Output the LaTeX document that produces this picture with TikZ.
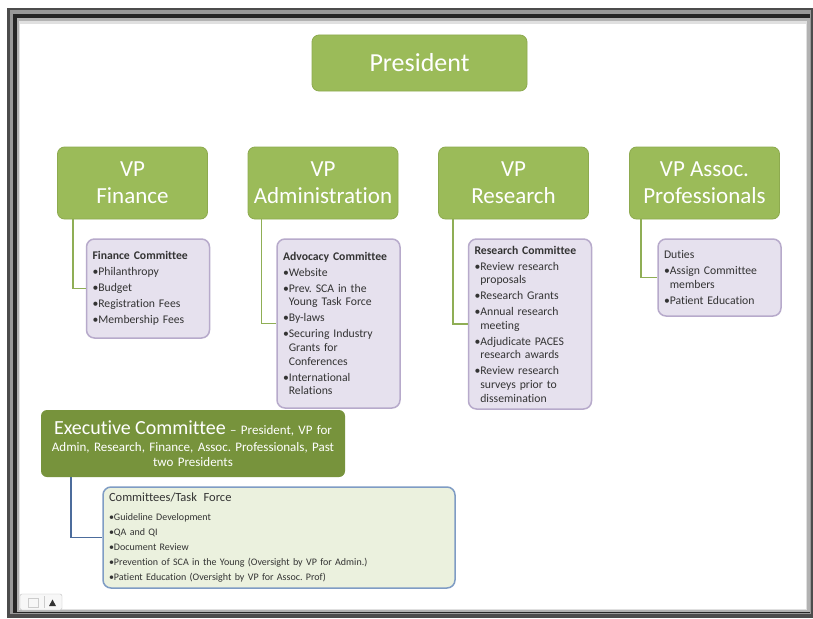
\documentclass[tikz,border=0pt]{standalone}
\usepackage{fontspec}
\setmainfont{Carlito}[Ligatures=NoCommon]
\frenchspacing
\definecolor{vpgreen}{HTML}{9BBB59}
\definecolor{vpedge}{HTML}{8DAA4F}
\definecolor{execgreen}{HTML}{77933C}
\definecolor{lavfill}{HTML}{E6E1EE}
\definecolor{lavedge}{HTML}{B7AACB}
\definecolor{taskfill}{HTML}{EBF1DE}
\definecolor{taskedge}{HTML}{7F9CC4}
\definecolor{taskline}{HTML}{4C6C9C}
\definecolor{greenline}{HTML}{8FAE55}
\newcommand{\itm}{\\[2.4pt]\textbullet}
\newcommand{\wrp}{\\\hphantom{\textbullet}}
\begin{document}
\begin{tikzpicture}[x=1pt,y=-1pt,
	vpbox/.style={rectangle, rounded corners=7pt, draw=vpedge, line width=0.8pt, fill=vpgreen, text=white, align=center, minimum width=150pt, minimum height=72pt, font=\fontsize{23}{27}\selectfont},
	combox/.style={rectangle, rounded corners=8pt, draw=lavedge, line width=1.5pt, fill=lavfill, text=black!80, align=left, inner xsep=6pt, text width=111pt, font=\fontsize{11.7}{13.6}\selectfont},
	greenlink/.style={draw=greenline, line width=1.6pt},
	bluelink/.style={draw=taskline, line width=1.6pt}]
		\useasboundingbox (0,0) rectangle (813,618);
		%window frame
		\fill[white] (0,0) rectangle (813,618);
		\fill[black!70] (7,8) rectangle (813,618);
		\fill[black!40] (10,10) rectangle (811,614);
		\fill[black!85] (13,14) rectangle (810,613);
		\fill[black!30] (17,18) rectangle (810,612);
		\fill[black!12] (19,21) rectangle (807,610);
		\fill[white] (20,24) rectangle (806,609);
		%slide widget
		\draw[black!25, fill=black!3, rounded corners=2pt] (20,594) rectangle (62,610);
		\draw[black!20] (28,598) rectangle (38,607);
		\draw[black!20] (44,596) -- (44,608);
		\fill[black!80] (49,606) -- (56,606) -- (52.5,599.5) -- cycle;
		
		%President's node
		\node (President) at (419.5,63) [vpbox, minimum width=215pt, minimum height=56pt, font=\fontsize{26}{30}\selectfont]{President};
		
		%VP's nodes
		\node (VP Finance) at (132.5,183) [vpbox]{VP\\Finance};
		\node (VP Administration) at (323,183) [vpbox]{VP\\Administration};
		\node (VP Research) at (513.5,183) [vpbox]{VP\\Research};
		\node (VP Assoc Professionals) at (704.5,183) [vpbox]{VP Assoc.\\Professionals};
		
		%committee nodes
		\node (Finance Committee) at (148,288.5) [combox, minimum height=99pt]{\textbf{Finance Committee}\itm Philanthropy\itm Budget\itm Registration Fees\itm Membership Fees};
		\node (Advocacy Committee) at (338.5,323.5) [combox, minimum height=169pt]{\textbf{Advocacy Committee}\itm Website\itm Prev. SCA in the\wrp Young Task Force\itm By-laws\itm Securing Industry\wrp Grants for\wrp Conferences\itm International\wrp Relations};
		\node (Research Committee) at (530,324) [combox, minimum height=170pt]{\textbf{Research Committee}\itm Review research\wrp proposals\itm Research Grants\itm Annual research\wrp meeting\itm Adjudicate PACES\wrp research awards\itm Review research\wrp surveys prior to\wrp dissemination};
		\node (Duties) at (719.5,277.5) [combox, minimum height=77pt]{Duties\itm Assign Committee\wrp members\itm Patient Education};
		
		%executive nodes
		\node (Executive Committee) at (193,443.5) [rectangle, rounded corners=6pt, fill=execgreen, text=white, align=center, minimum width=304pt, minimum height=67pt, text width=292pt, font=\fontsize{13}{15.5}\selectfont]{{\fontsize{20}{15.5}\selectfont Executive Committee} – President, VP for\\[1.5pt]Admin, Research, Finance, Assoc. Professionals, Past\\two Presidents};
		\node (Task Force) at (279,537.5) [rectangle, rounded corners=8pt, draw=taskedge, line width=1.5pt, fill=taskfill, text=black!80, align=left, text width=340pt, inner xsep=6pt, minimum height=101pt, font=\fontsize{10}{12}\selectfont]{{\fontsize{12.5}{12}\selectfont Committees/Task\ \ Force}\\[7pt]\textbullet Guideline Development\\[3pt]\textbullet QA and QI\\[3pt]\textbullet Document Review\\[3pt]\textbullet Prevention of SCA in the Young (Oversight by VP for Admin.)\\[3pt]\textbullet Patient Education (Oversight by VP for Assoc. Prof)};
		
		%VP links
		\draw[greenlink] ([xshift=16pt]VP Finance.south west) |- (Finance Committee.west);
		\draw[greenlink] ([xshift=14pt]VP Administration.south west) |- (Advocacy Committee.west);
		\draw[greenlink] ([xshift=15pt]VP Research.south west) |- (Research Committee.west);
		\draw[greenlink] ([xshift=12pt]VP Assoc Professionals.south west) |- (Duties.west);
		
		%executive link
		\draw[bluelink] ([xshift=30pt]Executive Committee.south west) |- (Task Force.west);
		
\end{tikzpicture}
\end{document}
